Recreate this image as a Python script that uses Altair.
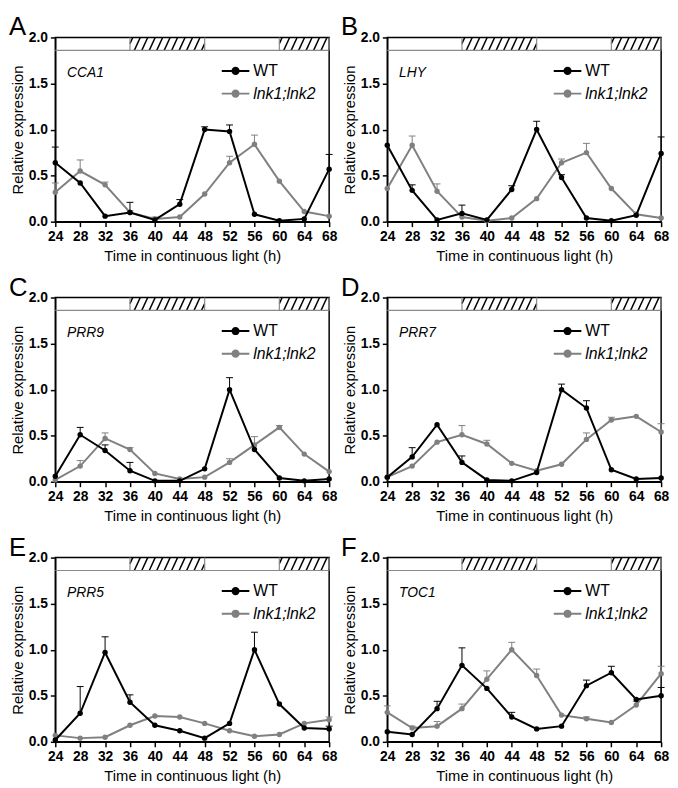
import altair as alt
import pandas as pd

FONT = "Liberation Sans"

HOURS = [24, 28, 32, 36, 40, 44, 48, 52, 56, 60, 64, 68]
SERIES = ["WT", "lnk1;lnk2"]
COLORS = ["#000000", "#808080"]
LETTERS = ["A", "B", "C", "D", "E", "F"]
GENES = ["CCA1", "LHY", "PRR9", "PRR7", "PRR5", "TOC1"]

# subjective day / night bars along the top
LIGHT = [(24, 36), (48, 60)]
DARK = [(36, 48), (60, 68)]

# mean relative expression; *_TOP = top of the (upper-only) error bar, None = no bar
CCA1_WT = [0.64, 0.42, 0.06, 0.10, 0.02, 0.19, 1.00, 0.98, 0.08, 0.01, 0.03, 0.57]
CCA1_WT_TOP = [0.81, None, None, 0.21, None, 0.24, 1.03, 1.05, None, None, None, 0.73]
CCA1_LNK = [0.32, 0.55, 0.40, 0.10, 0.03, 0.05, 0.30, 0.64, 0.84, 0.44, 0.11, 0.06]
CCA1_LNK_TOP = [0.42, 0.67, 0.43, 0.12, 0.05, None, None, 0.71, 0.94, None, None, None]

LHY_WT = [0.83, 0.34, 0.02, 0.09, 0.02, 0.35, 1.00, 0.48, 0.04, 0.01, 0.07, 0.74]
LHY_WT_TOP = [None, 0.40, None, 0.18, None, 0.39, 1.09, 0.51, None, None, None, 0.92]
LHY_LNK = [0.36, 0.83, 0.33, 0.05, 0.01, 0.04, 0.25, 0.64, 0.75, 0.36, 0.08, 0.04]
LHY_LNK_TOP = [None, 0.93, 0.41, None, None, None, None, 0.68, 0.85, None, None, None]

PRR9_WT = [0.06, 0.51, 0.34, 0.12, 0.01, 0.01, 0.14, 1.00, 0.35, 0.04, 0.01, 0.03]
PRR9_WT_TOP = [None, 0.59, 0.40, 0.21, None, None, None, 1.13, None, None, None, None]
PRR9_LNK = [0.02, 0.17, 0.47, 0.35, 0.09, 0.03, 0.05, 0.21, 0.40, 0.59, 0.30, 0.11]
PRR9_LNK_TOP = [None, 0.23, 0.53, 0.37, None, None, None, 0.25, 0.49, 0.61, None, None]

PRR7_WT = [0.05, 0.27, 0.62, 0.21, 0.02, 0.01, 0.10, 1.00, 0.80, 0.13, 0.03, 0.04]
PRR7_WT_TOP = [None, 0.37, None, 0.28, None, None, None, 1.06, 0.88, None, None, None]
PRR7_LNK = [0.05, 0.17, 0.43, 0.51, 0.41, 0.20, 0.12, 0.19, 0.46, 0.67, 0.71, 0.54]
PRR7_LNK_TOP = [None, None, None, 0.61, 0.45, None, None, None, 0.53, 0.70, None, 0.63]

PRR5_WT = [0.02, 0.31, 0.97, 0.43, 0.18, 0.12, 0.04, 0.20, 1.00, 0.41, 0.15, 0.14]
PRR5_WT_TOP = [None, 0.60, 1.14, 0.51, None, None, None, None, 1.19, None, None, 0.17]
PRR5_LNK = [0.07, 0.04, 0.05, 0.18, 0.28, 0.27, 0.20, 0.12, 0.06, 0.08, 0.20, 0.24]
PRR5_LNK_TOP = [None, None, None, None, None, None, None, None, None, None, None, 0.27]

TOC1_WT = [0.11, 0.08, 0.36, 0.83, 0.58, 0.27, 0.14, 0.17, 0.61, 0.75, 0.46, 0.50]
TOC1_WT_TOP = [None, None, 0.44, 1.02, None, 0.32, None, None, 0.67, 0.82, None, 0.59]
TOC1_LNK = [0.32, 0.15, 0.17, 0.36, 0.68, 1.00, 0.72, 0.29, 0.25, 0.21, 0.40, 0.74]
TOC1_LNK_TOP = [0.39, 0.17, 0.22, 0.41, 0.77, 1.08, 0.79, None, 0.27, None, 0.44, 0.82]

PANEL_DATA = [
    (CCA1_WT, CCA1_WT_TOP, CCA1_LNK, CCA1_LNK_TOP),
    (LHY_WT, LHY_WT_TOP, LHY_LNK, LHY_LNK_TOP),
    (PRR9_WT, PRR9_WT_TOP, PRR9_LNK, PRR9_LNK_TOP),
    (PRR7_WT, PRR7_WT_TOP, PRR7_LNK, PRR7_LNK_TOP),
    (PRR5_WT, PRR5_WT_TOP, PRR5_LNK, PRR5_LNK_TOP),
    (TOC1_WT, TOC1_WT_TOP, TOC1_LNK, TOC1_LNK_TOP),
]

BAND_LO = 1.86
BAND_HI = 2.0
STRIPE_STEP = 1.2
STRIPE_RUN = 0.95

# hatch stripes for the dark bars
hatch_rows = []
for a, b in DARK:
    x0 = a - STRIPE_RUN + 0.45
    while x0 < b:
        xs, ys, xe, ye = x0, BAND_LO, x0 + STRIPE_RUN, BAND_HI
        if xs < a:
            ys = BAND_LO + (a - x0) / STRIPE_RUN * (BAND_HI - BAND_LO)
            xs = a
        if xe > b:
            ye = BAND_LO + (b - x0) / STRIPE_RUN * (BAND_HI - BAND_LO)
            xe = b
        if xe > xs:
            hatch_rows.append({"h": xs, "v": ys, "h2": xe, "v2": ye})
        x0 += STRIPE_STEP
hatch_df = pd.DataFrame(hatch_rows)

border_rows = [{"h": 24, "v": BAND_LO, "h2": 68, "v2": BAND_LO}]
for a, b in DARK:
    border_rows.append({"h": a, "v": BAND_LO, "h2": a, "v2": BAND_HI})
    border_rows.append({"h": b, "v": BAND_LO, "h2": b, "v2": BAND_HI})
border_df = pd.DataFrame(border_rows)

SYMBOL = ("M-2,0H2M-0.45,0A0.45,0.45,0,1,1,0.45,0"
          "A0.45,0.45,0,1,1,-0.45,0Z")
COLOR_EXPR = "datum.value === 'WT' ? '#000000' : '#808080'"

W, H = 278, 187
YSCALE = alt.Scale(domain=[0, 2], nice=False)
YAXIS = alt.Axis(values=[0, 0.5, 1, 1.5, 2], format=".1f", title="Relative expression")


def X():
    return alt.X("h:Q", scale=alt.Scale(domain=[24, 68], nice=False, zero=False),
                 axis=alt.Axis(values=HOURS, title="Time in continuous light (h)",
                               labelFlush=False, labelOverlap=False))


def Y(field="v:Q"):
    return alt.Y(field, scale=YSCALE, axis=YAXIS)


def panel(letter, gene, wt, wt_top, lnk, lnk_top):
    rows = []
    for s, vals, tops in [(SERIES[0], wt, wt_top), (SERIES[1], lnk, lnk_top)]:
        for h, v, t in zip(HOURS, vals, tops):
            rows.append({"h": h, "v": v, "top": v if t is None else t, "s": s})
    df = pd.DataFrame(rows)

    color = alt.Color(
        "s:N",
        scale=alt.Scale(domain=SERIES, range=COLORS),
        legend=alt.Legend(
            title=None, orient="none", legendX=175, legendY=26,
            symbolType=SYMBOL, symbolSize=196, symbolStrokeWidth=2,
            symbolOpacity=1, labelFont=FONT, labelFontSize=16,
            labelColor="black", labelOffset=10, rowPadding=7,
            labelFontStyle={"expr": "datum.value === 'WT' ? 'normal' : 'italic'"},
            symbolFillColor={"expr": COLOR_EXPR},
            symbolStrokeColor={"expr": COLOR_EXPR},
        ),
    )

    base = alt.Chart(df)
    hatch = alt.Chart(hatch_df).mark_rule(color="black", strokeWidth=1.5).encode(
        x=X(), x2="h2:Q", y=Y(), y2="v2:Q")
    border = alt.Chart(border_df).mark_rule(color="#8a8a8a", strokeWidth=1.2).encode(
        x=X(), x2="h2:Q", y=Y(), y2="v2:Q")

    layers = [hatch, border]
    for s in [SERIES[1], SERIES[0]]:
        sub = base.transform_filter(alt.datum.s == s)
        err = sub.transform_filter("datum.top > datum.v")
        layers.append(err.mark_rule(strokeWidth=1).encode(
            x=X(), y=Y(), y2="top:Q", color=color))
        layers.append(err.mark_rule(strokeWidth=1, xOffset=-3.5, x2Offset=3.5).encode(
            x=X(), x2="h:Q", y=Y("top:Q"), color=color))
        layers.append(sub.mark_line(strokeWidth=2).encode(x=X(), y=Y(), color=color))
        layers.append(sub.mark_circle(size=30, opacity=1).encode(x=X(), y=Y(), color=color))

    label = alt.Chart(pd.DataFrame({"g": [gene]})).mark_text(
        font=FONT, fontSize=14, fontStyle="italic", align="left",
        baseline="alphabetic", color="black").encode(
        text="g:N", x=alt.value(12), y=alt.value(40))
    layers.append(label)

    return alt.layer(*layers).properties(
        width=W, height=H,
        title=alt.TitleParams(text=letter, anchor="start", frame="group", dx=-47,
                              fontSize=26, fontWeight="normal", font=FONT,
                              color="black", offset=-10),
    )


charts = [panel(l, g, *d) for l, g, d in zip(LETTERS, GENES, PANEL_DATA)]

chart = alt.concat(*charts, columns=2, spacing={"row": 77, "column": 59},
                   bounds="flush").resolve_scale(color="independent").resolve_legend(
    color="independent"
).configure_view(stroke="black", strokeWidth=1.5).configure_axis(
    grid=False, domainColor="black", domainWidth=1.5, tickColor="black",
    tickWidth=1.5, tickSize=5, labelFont=FONT, labelFontSize=14,
    labelFontWeight="bold", labelColor="black", labelPadding=3,
    titleFont=FONT, titleFontSize=15, titleFontWeight="normal", titleColor="black",
).configure_axisX(titlePadding=5).configure_axisY(titlePadding=3).properties(
    background="white", padding=0
)

chart.save("out.html", embed_options={"renderer": "svg", "actions": False})
